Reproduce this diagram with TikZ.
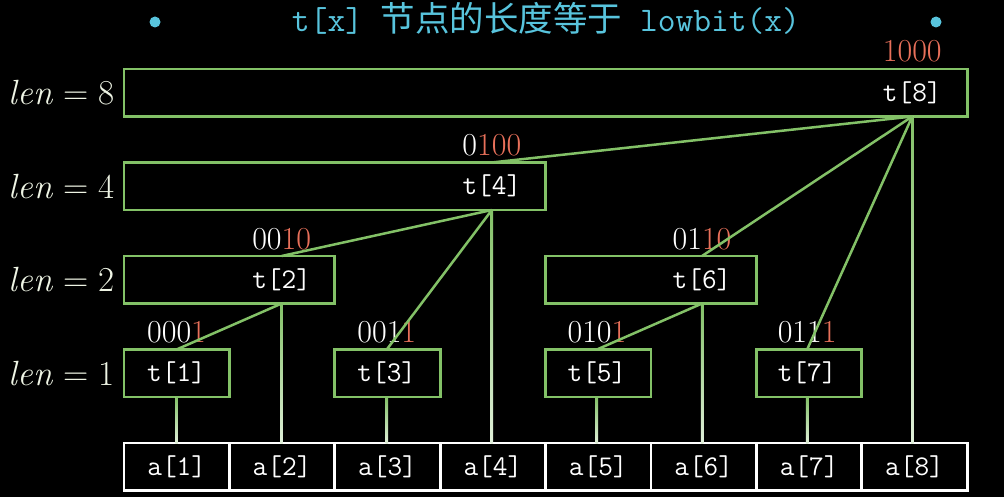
\documentclass[tikz,border=0pt]{standalone}
\usepackage{fontspec}
\newfontfamily\cjk{Noto Sans CJK SC}
\usetikzlibrary{calc}
\definecolor{mgreen}{HTML}{83C167}
\definecolor{mred}{HTML}{E8705A}
\definecolor{mblue}{HTML}{58C4DD}
\definecolor{lenc}{HTML}{EEF4E4}
\newcommand{\lenlabel}[1]{{\itshape len}\hspace{0.3em}=\hspace{0.3em}#1}
\begin{document}
\begin{tikzpicture}[x=1pt,y=-1pt,
  boxg/.style={draw=mgreen,line width=2.8pt,inner sep=0pt,outer sep=0pt,minimum height=47.5pt,anchor=north west},
  cellw/.style={draw=white,line width=2.8pt,inner sep=0pt,outer sep=0pt,minimum width=105.4pt,minimum height=47.5pt,anchor=north west,text=white,font=\fontsize{28.5}{30}\ttfamily},
  tlab/.style={text=white,inner sep=0pt,font=\fontsize{28.5}{30}\ttfamily},
  binl/.style={inner sep=0pt,anchor=base,yshift=7pt,font=\fontsize{32}{34}\selectfont},
  lenlab/.style={text=lenc,inner sep=0pt,anchor=east,xshift=-9pt,font=\fontsize{35}{36}\selectfont},
  conn/.style={draw=mgreen,line width=2.5pt},
  vbase/.style={draw=mgreen!60!white,line width=2.5pt},
  vshade/.style={top color=mgreen,bottom color=mgreen!25!white,draw=none}]
\useasboundingbox (0,0) rectangle (1004,497);
\fill[black] (0,0) rectangle (1004,497);
% title
\node[anchor=base,inner sep=0pt,text=mblue,font=\fontsize{34.5}{36}\selectfont] (title) at (546,32)
  {\ttfamily t[x] {\cjk 节点的长度等于} lowbit(x)};
\fill[mblue] (155,22) circle (5.5) coordinate (dotl);
\fill[mblue] (936,22) circle (5.5) coordinate (dotr);
% tree boxes
\node[boxg,minimum width=843.2pt] (b8) at (124,69) {};
\node[boxg,minimum width=421.6pt] (b4) at (124,162.5) {};
\node[boxg,minimum width=210.8pt] (b2) at (124,256) {};
\node[boxg,minimum width=210.8pt] (b6) at (545.6,256) {};
\node[boxg,minimum width=105.4pt] (b1) at (124,349.5) {};
\node[boxg,minimum width=105.4pt] (b3) at (334.8,349.5) {};
\node[boxg,minimum width=105.4pt] (b5) at (545.6,349.5) {};
\node[boxg,minimum width=105.4pt] (b7) at (756.4,349.5) {};
% labels in boxes
\node[tlab] (t8) at (912.25,92.75) {t[8]};
\node[tlab] (t4) at (491.85,186.25) {t[4]};
\node[tlab] (t2) at (281.65,279.75) {t[2]};
\node[tlab] (t6) at (702.05,279.75) {t[6]};
\node[tlab] (t1) at (176.55,373.25) {t[1]};
\node[tlab] (t3) at (386.75,373.25) {t[3]};
\node[tlab] (t5) at (596.95,373.25) {t[5]};
\node[tlab] (t7) at (807.15,373.25) {t[7]};
% array cells
\foreach \k in {1,...,8}{
  \node[cellw] (a\k) at ({124+105.4*(\k-1)},443) {a[\k]};
}
% binary labels
\node[binl] (n8) at (b8.north -| t8) {\color{mred}1000};
\node[binl] (n4) at (b4.north -| t4) {\color{white}0\color{mred}100};
\node[binl] (n2) at (b2.north -| t2) {\color{white}00\color{mred}10};
\node[binl] (n6) at (b6.north -| t6) {\color{white}01\color{mred}10};
\node[binl] (n1) at (b1.north -| t1) {\color{white}000\color{mred}1};
\node[binl] (n3) at (b3.north -| t3) {\color{white}001\color{mred}1};
\node[binl] (n5) at (b5.north -| t5) {\color{white}010\color{mred}1};
\node[binl] (n7) at (b7.north -| t7) {\color{white}011\color{mred}1};
% len labels
\node[lenlab] (l8) at (b8.west) {\lenlabel{8}};
\node[lenlab] (l4) at (b4.west) {\lenlabel{4}};
\node[lenlab] (l2) at (b2.west) {\lenlabel{2}};
\node[lenlab] (l1) at (b1.west) {\lenlabel{1}};
% parent-child connectors
\draw[conn] (b8.south -| t8) -- (b4.north -| t4);
\draw[conn] (b8.south -| t8) -- (b6.north -| t6);
\draw[conn] (b8.south -| t8) -- (b7.north -| t7);
\draw[conn] (b4.south -| t4) -- (b2.north -| t2);
\draw[conn] (b4.south -| t4) -- (b3.north -| t3);
\draw[conn] (b2.south -| t2) -- (b1.north -| t1);
\draw[conn] (b6.south -| t6) -- (b5.north -| t5);
% vertical connectors to the array (green fading to white)
\foreach \k in {1,...,8}{
  \draw[vbase] (b\k.south -| t\k) -- (a\k.north -| t\k);
  \shade[vshade] ($(b\k.south -| t\k)+(-1.25,0)$) rectangle ($(a\k.north -| t\k)+(1.25,0)$);
}
\end{tikzpicture}
\end{document}
